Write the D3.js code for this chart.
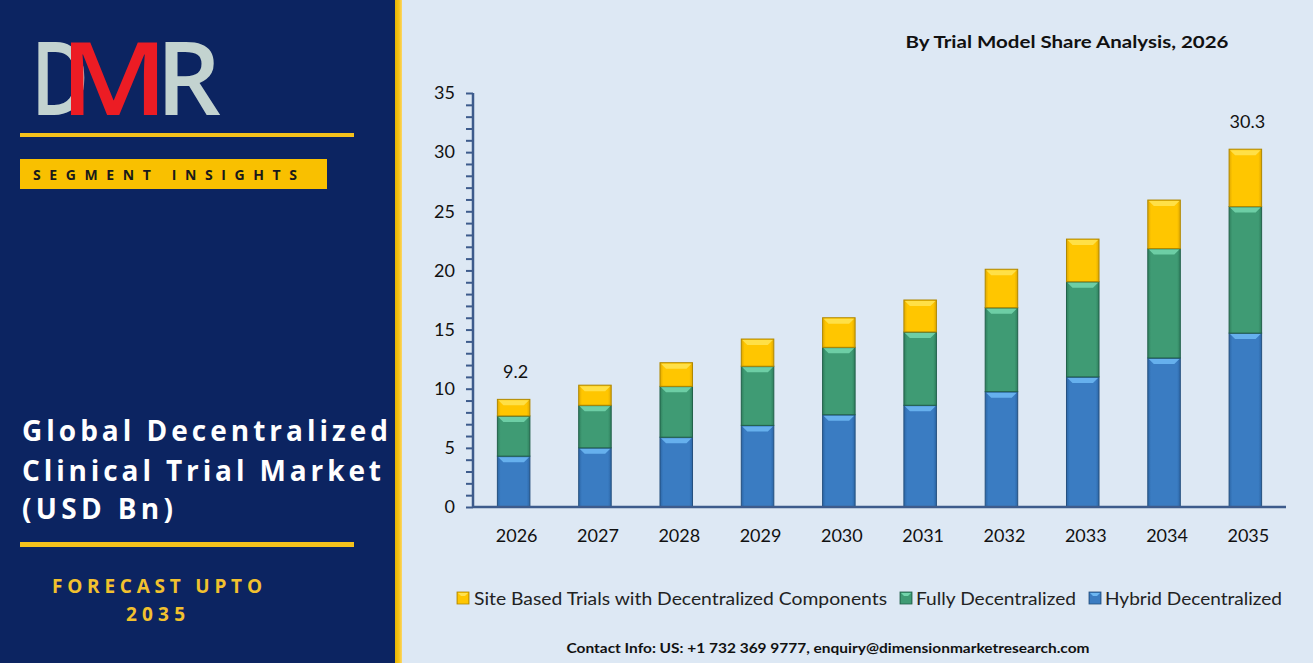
<!DOCTYPE html>
<html>
<head>
<meta charset="utf-8">
<script src="https://cdn.jsdelivr.net/npm/d3@7"></script>
<style>
  body { margin: 0; background: #fff; }
  svg { display: block; }
</style>
</head>
<body>
<svg width="1313" height="668"></svg>
<script>
// data (USD Bn)
var years = ["2026", "2027", "2028", "2029", "2030", "2031", "2032", "2033", "2034", "2035"];
var hybrid = [4.3, 5.0, 5.9, 6.9, 7.8, 8.6, 9.75, 11.0, 12.6, 14.7];
var fully = [3.4, 3.6, 4.3, 5.0, 5.7, 6.2, 7.1, 8.05, 9.25, 10.7];
var siteBased = [1.4, 1.7, 2.0, 2.3, 2.5, 2.7, 3.25, 3.6, 4.1, 4.85];
var totalLabels = {"2026": "9.2", "2035": "30.3"};
var yTicks = [0, 5, 10, 15, 20, 25, 30, 35];

var keys = ["hybrid", "fully", "site"];
var legendNames = {
  site: "Site Based Trials with Decentralized Components",
  fully: "Fully Decentralized",
  hybrid: "Hybrid Decentralized"
};
var colors = {
  hybrid: {main: "#3a7cc2", light: "#6cb6f2", edge: "#2c66a6", line: "#25507e"},
  fully:  {main: "#3f9b74", light: "#72d4ab", edge: "#2f7f5d", line: "#22604a"},
  site:   {main: "#ffc600", light: "#ffe24f", edge: "#e0a800", line: "#b08800"}
};

var table = years.map(function(y, i) {
  return {year: y, hybrid: hybrid[i], fully: fully[i], site: siteBased[i]};
});

var svg = d3.select("svg");
var chartFont = "Lato, 'Open Sans', sans-serif";

// backgrounds
svg.append("rect").attr("width", 1313).attr("height", 663).attr("fill", "#dde8f4");
svg.append("rect").attr("width", 395).attr("height", 663).attr("fill", "#0c2461");
var defs = svg.append("defs");
var sg = defs.append("linearGradient").attr("id", "strip").attr("x1", 0).attr("x2", 1);
sg.append("stop").attr("offset", "0%").attr("stop-color", "#e8b400");
sg.append("stop").attr("offset", "60%").attr("stop-color", "#f8c61c");
sg.append("stop").attr("offset", "100%").attr("stop-color", "#fbd66a");
svg.append("rect").attr("x", 395).attr("width", 7).attr("height", 663).attr("fill", "url(#strip)");

// left panel
var logo = svg.append("g").attr("font-family", "'Open Sans', sans-serif").attr("font-weight", 600).attr("font-size", 102);
logo.append("text").attr("x", 31).attr("y", 115).attr("fill", "#c3d3d0")
  .attr("textLength", 58).attr("lengthAdjust", "spacingAndGlyphs").text("D");
logo.append("text").attr("x", 60).attr("y", 115).attr("fill", "#ec1c24")
  .attr("textLength", 108).attr("lengthAdjust", "spacingAndGlyphs").text("M");
logo.append("text").attr("x", 156).attr("y", 115).attr("fill", "#c3d3d0")
  .attr("textLength", 65).attr("lengthAdjust", "spacingAndGlyphs").text("R");

svg.append("rect").attr("x", 20).attr("y", 133).attr("width", 334).attr("height", 4).attr("fill", "#f5c21b");
svg.append("rect").attr("x", 20).attr("y", 159).attr("width", 307).attr("height", 30).attr("fill", "#f9c000");
svg.append("text").attr("x", 33).attr("y", 180)
  .attr("font-family", "'Open Sans', sans-serif").attr("font-weight", 700).attr("font-size", 14)
  .attr("fill", "#1a1a1a").attr("textLength", 264).attr("lengthAdjust", "spacing")
  .text("SEGMENT INSIGHTS");

var heading = [
  {t: "Global Decentralized", w: 366, y: 441},
  {t: "Clinical Trial Market", w: 359, y: 481},
  {t: "(USD Bn)", w: 151, y: 519}
];
svg.append("g").selectAll("text").data(heading).enter().append("text")
  .attr("x", 22).attr("y", function(d) { return d.y; })
  .attr("font-family", "'Open Sans', sans-serif").attr("font-weight", 700).attr("font-size", 28)
  .attr("fill", "#ffffff")
  .attr("textLength", function(d) { return d.w; }).attr("lengthAdjust", "spacing")
  .text(function(d) { return d.t; });

svg.append("rect").attr("x", 20).attr("y", 542).attr("width", 334).attr("height", 5).attr("fill", "#f5c21b");
svg.append("text").attr("x", 52).attr("y", 593)
  .attr("font-family", "'Open Sans', sans-serif").attr("font-weight", 700).attr("font-size", 19)
  .attr("fill", "#f2c12e").attr("textLength", 210).attr("lengthAdjust", "spacing")
  .text("FORECAST UPTO");
svg.append("text").attr("x", 126).attr("y", 621)
  .attr("font-family", "'Open Sans', sans-serif").attr("font-weight", 700).attr("font-size", 19)
  .attr("fill", "#f2c12e").attr("textLength", 59).attr("lengthAdjust", "spacing")
  .text("2035");

// chart
var plotLeft = 473, plotRight = 1286, plotTop = 93, plotBottom = 507;
var x = d3.scaleBand().domain(years).range([plotLeft, plotRight]).paddingInner(0.6).paddingOuter(0.3);
var y = d3.scaleLinear().domain([0, 35]).range([plotBottom, plotTop]);
var stacked = d3.stack().keys(keys)(table);

svg.append("text").attr("x", 1067).attr("y", 48).attr("text-anchor", "middle")
  .attr("font-family", chartFont).attr("font-weight", 700).attr("font-size", 17)
  .attr("fill", "#111").attr("textLength", 323).attr("lengthAdjust", "spacingAndGlyphs")
  .text("By Trial Model Share Analysis, 2026");

keys.forEach(function(k) {
  var g = defs.append("linearGradient").attr("id", "grad-" + k).attr("x1", 0).attr("x2", 1);
  g.append("stop").attr("offset", "0%").attr("stop-color", colors[k].edge);
  g.append("stop").attr("offset", "10%").attr("stop-color", colors[k].main);
  g.append("stop").attr("offset", "90%").attr("stop-color", colors[k].main);
  g.append("stop").attr("offset", "100%").attr("stop-color", colors[k].edge);
});

var bev = 5;
var layers = svg.append("g").selectAll("g").data(stacked).enter().append("g");
var segs = layers.selectAll("g").data(function(s) {
  return s.map(function(d) { return {key: s.key, d: d}; });
}).enter().append("g");

segs.append("rect")
  .attr("x", function(s) { return x(s.d.data.year); })
  .attr("y", function(s) { return y(s.d[1]); })
  .attr("width", x.bandwidth())
  .attr("height", function(s) { return y(s.d[0]) - y(s.d[1]); })
  .attr("fill", function(s) { return "url(#grad-" + s.key + ")"; })
  .attr("stroke", function(s) { return colors[s.key].line; })
  .attr("stroke-width", 1);

segs.append("polygon")
  .attr("points", function(s) {
    var x0 = x(s.d.data.year) + 1, x1 = x0 + x.bandwidth() - 2, yt = y(s.d[1]) + 1;
    return [[x0, yt], [x1, yt], [x1 - bev, yt + bev], [x0 + bev, yt + bev]].join(" ");
  })
  .attr("fill", function(s) { return colors[s.key].light; })
  .attr("opacity", 0.9);

// total labels
svg.append("g").selectAll("text")
  .data(table.filter(function(d) { return totalLabels[d.year]; }))
  .enter().append("text")
  .attr("x", function(d) { return x(d.year) + x.bandwidth() / 2 + 2; })
  .attr("y", function(d) { return y(d.hybrid + d.fully + d.site) - 21; })
  .attr("text-anchor", "middle")
  .attr("font-family", chartFont).attr("font-size", 18).attr("fill", "#111")
  .text(function(d) { return totalLabels[d.year]; });

// axes
var axisColor = "#3d5b8c";
var yAxis = svg.append("g").attr("transform", "translate(" + plotLeft + ",0)")
  .call(d3.axisLeft(y).tickValues(d3.range(0, 36, 1)).tickSize(7).tickPadding(11)
    .tickFormat(function(v) { return yTicks.indexOf(v) >= 0 ? v : ""; }));
var xAxis = svg.append("g").attr("transform", "translate(0," + plotBottom + ")")
  .call(d3.axisBottom(x).tickSize(0).tickPadding(22));

[yAxis, xAxis].forEach(function(a) {
  a.select(".domain").attr("stroke", axisColor).attr("stroke-width", 2.5);
  a.selectAll(".tick line").attr("stroke", axisColor).attr("stroke-width", 2);
  a.selectAll("text").attr("font-family", chartFont).attr("font-size", 18).attr("fill", "#111");
});
yAxis.select(".domain").attr("d", "M0," + plotBottom + "V" + plotTop);
xAxis.select(".domain").attr("d", "M" + plotLeft + ",0H" + plotRight);
xAxis.selectAll(".tick text").attr("dx", 3);

// legend
var legendItems = [
  {key: "site", sx: 457, tx: 474, w: 413},
  {key: "fully", sx: 900, tx: 916, w: 160},
  {key: "hybrid", sx: 1089, tx: 1105, w: 177}
];
var leg = svg.append("g").selectAll("g").data(legendItems).enter().append("g");
leg.append("rect")
  .attr("x", function(d) { return d.sx; }).attr("y", 592).attr("width", 12).attr("height", 12)
  .attr("fill", function(d) { return "url(#grad-" + d.key + ")"; })
  .attr("stroke", function(d) { return colors[d.key].line; }).attr("stroke-width", 0.8);
leg.append("polygon")
  .attr("points", function(d) {
    return [[d.sx + 1, 593], [d.sx + 11, 593], [d.sx + 8, 596], [d.sx + 4, 596]].join(" ");
  })
  .attr("fill", function(d) { return colors[d.key].light; });
leg.append("text")
  .attr("x", function(d) { return d.tx; }).attr("y", 605)
  .attr("font-family", chartFont).attr("font-size", 18).attr("fill", "#222")
  .attr("textLength", function(d) { return d.w; }).attr("lengthAdjust", "spacingAndGlyphs")
  .text(function(d) { return legendNames[d.key]; });

svg.append("text").attr("x", 828).attr("y", 653).attr("text-anchor", "middle")
  .attr("font-family", chartFont).attr("font-weight", 700).attr("font-size", 14)
  .attr("fill", "#111").attr("textLength", 523).attr("lengthAdjust", "spacingAndGlyphs")
  .text("Contact Info: US: +1 732 369 9777, enquiry@dimensionmarketresearch.com");
</script>
</body>
</html>
